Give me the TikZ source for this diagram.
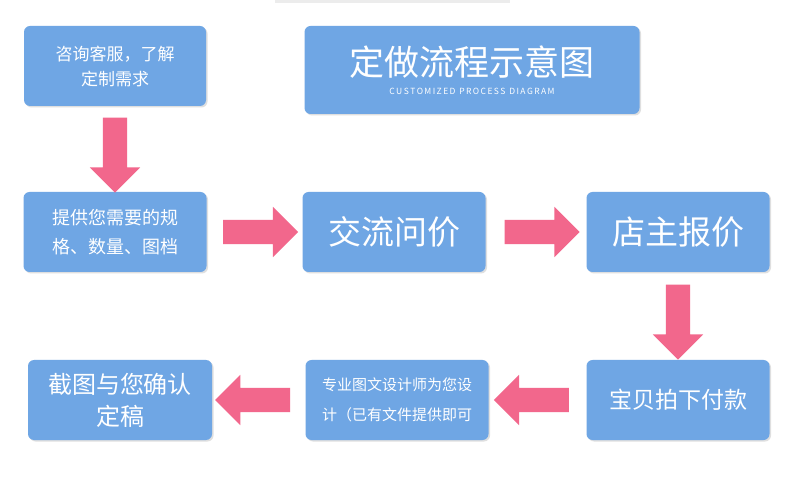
\documentclass[tikz,border=0pt]{standalone}
\usepackage{fontspec}
\setmainfont{Noto Sans CJK SC}
\usetikzlibrary{shapes.arrows,shadows,calc}
\definecolor{boxblue}{HTML}{6FA6E4}
\definecolor{arrpink}{HTML}{F2678C}
\tikzset{
  box/.style={fill=boxblue, rounded corners=6pt, text=white, align=center, inner sep=0pt,
    drop shadow={opacity=0.25, shadow xshift=1.5pt, shadow yshift=-1.5pt}},
  parr/.style={single arrow, fill=arrpink, draw=none, minimum width=50pt, minimum height=75pt,
    single arrow head extend=13pt, inner sep=12pt, anchor=center},
}
\begin{document}
\begin{tikzpicture}[x=1pt,y=-1pt]
\useasboundingbox[fill=white] (0,0) rectangle (790,478);
\fill[gray!15] (275,0) rectangle (510,3);
\node[box, minimum width=182pt, minimum height=80pt, font=\fontsize{17}{25}\selectfont] (s1) at (115,66) {咨询客服，了解\\定制需求};
\node[box, minimum width=335pt, minimum height=88pt] (title) at (472,70) {};
\node[text=white, font=\fontsize{35}{40}\selectfont] (tt) at (472,62) {定做流程示意图};
\node[text=white, font=\fontsize{8.5}{10}\selectfont] (ts) at (472,91) {C\,U\,S\,T\,O\,M\,I\,Z\,E\,D\ \ P\,R\,O\,C\,E\,S\,S\ \ D\,I\,A\,G\,R\,A\,M};
\node[box, minimum width=183pt, minimum height=80pt, font=\fontsize{18}{29}\selectfont] (s2) at (115,232) {提供您需要的规\\格、数量、图档};
\node[box, minimum width=183pt, minimum height=80pt, font=\fontsize{33}{38}\selectfont] (s3) at (394,232) {交流问价};
\node[box, minimum width=183pt, minimum height=80pt, font=\fontsize{33}{38}\selectfont] (s4) at (678,232) {店主报价};
\node[box, minimum width=183pt, minimum height=80pt, font=\fontsize{23}{28}\selectfont] (s5) at (678,400) {宝贝拍下付款};
\node[box, minimum width=183pt, minimum height=80pt, font=\fontsize{15}{30}\selectfont] (s6) at (397,400) {专业图文设计师为您设\\计（已有文件提供即可};
\node[box, minimum width=184pt, minimum height=80pt, font=\fontsize{24}{32}\selectfont] (s7) at (120,400) {截图与您确认\\定稿};
\node[parr, shape border rotate=270] (a1) at ($(s1.south)!.5!(s2.north)$) {};
\node[parr] (a2) at ($(s2.east)!.5!(s3.west)$) {};
\node[parr] (a3) at ($(s3.east)!.5!(s4.west)$) {};
\node[parr, shape border rotate=270] (a4) at ($(s4.south)!.5!(s5.north)$) {};
\node[parr, shape border rotate=180] (a5) at ($(s5.west)!.5!(s6.east)$) {};
\node[parr, shape border rotate=180] (a6) at ($(s6.west)!.5!(s7.east)$) {};
\end{tikzpicture}
\end{document}
